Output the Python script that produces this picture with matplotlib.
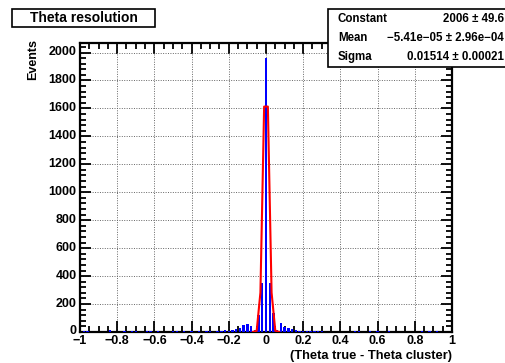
import matplotlib
matplotlib.use('Agg')
import matplotlib.pyplot as plt
import matplotlib.transforms as mtransforms
from matplotlib.ticker import MultipleLocator, FuncFormatter
from matplotlib.patches import Rectangle

# Blue histogram (bin centres and counts)
bin_centers = [-0.98, -0.96, -0.84, -0.76, -0.72, -0.70, -0.64, -0.62, -0.58,
               -0.50, -0.48, -0.44, -0.40, -0.36, -0.32, -0.30, -0.26, -0.24,
               -0.22, -0.20, -0.18, -0.16, -0.14, -0.12, -0.10, -0.08, -0.06,
               -0.04, -0.02, 0.00, 0.02, 0.04, 0.06, 0.08, 0.10, 0.12, 0.14,
               0.16, 0.18, 0.20, 0.22, 0.24, 0.26, 0.28, 0.30, 0.48, 0.50,
               0.56, 0.60, 0.66, 0.84, 0.88, 0.92]
counts = [6, 8, 15, 4, 6, 5, 6, 5, 8,
          6, 9, 6, 5, 7, 5, 9, 8, 10,
          12, 8, 14, 22, 30, 48, 55, 45, 15,
          125, 352, 1962, 350, 135, 15, 65, 38, 28, 22,
          15, 10, 6, 5, 5, 4, 6, 4, 4, 5,
          4, 5, 4, 8, 6, 5]

# Red fit curve points
fit_x = [-0.07, -0.05, -0.03, -0.01, 0.01, 0.03, 0.05, 0.07]
fit_y = [0.3, 9, 282, 1613, 1613, 282, 9, 0.3]

title_text = "Theta resolution"
stat_names = ["Constant", "Mean", "Sigma"]
stat_values = ["2006 \u00b1 49.6", "\u22125.41e\u221205 \u00b1 2.96e\u221204", "0.01514 \u00b1 0.00021"]

plt.rcParams['font.family'] = ['Liberation Sans', 'DejaVu Sans']
plt.rcParams['font.weight'] = 'bold'

W, H = 506, 363
fig = plt.figure(figsize=(W / 100, H / 100), dpi=100)
ax = fig.add_axes([80 / W, 1 - 332 / H, (452 - 80) / W, (332 - 43) / H])

ax.bar(bin_centers, counts, width=0.013, color='#0000ff', linewidth=0, zorder=3)
ax.plot(fit_x, fit_y, color='#ff0000', linewidth=1.5, zorder=4)

ax.set_xlim(-1, 1)
ax.set_ylim(0, 2068)
ax.xaxis.set_major_locator(MultipleLocator(0.2))
ax.xaxis.set_minor_locator(MultipleLocator(0.05))
ax.yaxis.set_major_locator(MultipleLocator(200))
ax.yaxis.set_minor_locator(MultipleLocator(40))

def fmt(v, pos):
    s = '%g' % round(v, 6)
    if s == '-0':
        s = '0'
    return s.replace('-', '\u2212')

ax.xaxis.set_major_formatter(FuncFormatter(fmt))
ax.yaxis.set_major_formatter(FuncFormatter(fmt))

ax.tick_params(which='both', direction='in', top=True, right=True, width=1.3,
               labelsize=9, colors='black')
ax.tick_params(which='major', length=8)
ax.tick_params(axis='x', which='major', pad=2.5)
ax.tick_params(axis='y', which='major', pad=2.5)
ax.tick_params(which='minor', length=4)
for lab in ax.get_xticklabels() + ax.get_yticklabels():
    lab.set_fontweight('bold')
# nudge the y labels up slightly, as in the reference
offset = mtransforms.ScaledTranslation(0, 2 / 100, fig.dpi_scale_trans)
for lab in ax.get_yticklabels():
    lab.set_transform(lab.get_transform() + offset)
for sp in ax.spines.values():
    sp.set_linewidth(1.6)

ax.grid(True, which='major', linestyle=(0, (1, 1.5)), color='#666666', linewidth=0.7, zorder=0)
ax.set_axisbelow(True)

fig.text(452 / W, 1 - 355.5 / H, "(Theta true - Theta cluster)", ha='right', va='center',
         fontsize=9.3, fontweight='bold')
fig.text(33 / W, 1 - 39 / H, "Events", rotation=90, ha='center', va='top',
         fontsize=9, fontweight='bold')

# Title box
fig.patches.append(Rectangle((12 / W, 1 - 27 / H), (155 - 12) / W, (27 - 9) / H,
                             transform=fig.transFigure, facecolor='white',
                             edgecolor='black', linewidth=1.2, zorder=10))
fig.text(83.5 / W, 1 - 18 / H, title_text, ha='center', va='center', fontsize=10,
         fontweight='bold', zorder=11)

# Stats box
fig.patches.append(Rectangle((328 / W, 1 - 67 / H), (W + 5 - 328) / W, (67 - 9) / H,
                             transform=fig.transFigure, facecolor='white',
                             edgecolor='black', linewidth=1.2, zorder=10))
row_y = [19, 38, 57]
for name, val, yy in zip(stat_names, stat_values, row_y):
    fig.text(338 / W, 1 - yy / H, name, ha='left', va='center', fontsize=8.3,
             fontweight='bold', zorder=11)
    fig.text(504 / W, 1 - yy / H, val, ha='right', va='center', fontsize=8.3,
             fontweight='bold', zorder=11)

fig.savefig('out.png', dpi=100)
